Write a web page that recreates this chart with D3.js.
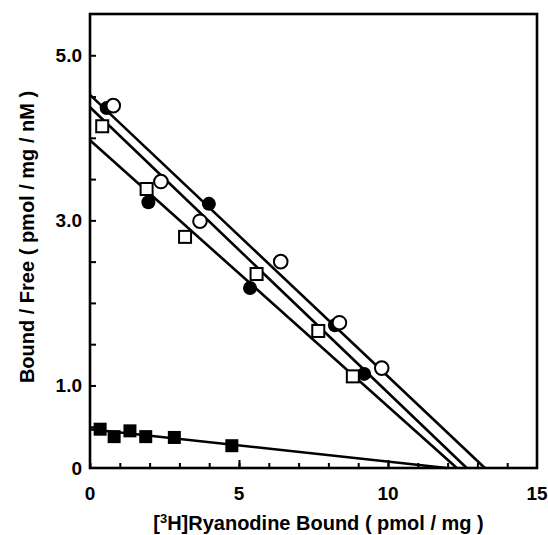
<!DOCTYPE html>
<html>
<head>
<meta charset="utf-8">
<script src="https://cdn.jsdelivr.net/npm/d3@7"></script>
<style>
  body { margin: 0; background: #fff; }
  text { font-family: "Liberation Sans", Arial, Helvetica, sans-serif; font-weight: bold; fill: #000; }
</style>
</head>
<body>
<div id="chart"></div>
<script>
// Data
var filledCircleX = [0.56, 1.96, 3.99, 5.37, 8.22, 9.20];
var filledCircleY = [4.36, 3.22, 3.20, 2.18, 1.73, 1.14];

var openCircleX = [0.78, 2.38, 3.69, 6.40, 8.37, 9.79];
var openCircleY = [4.39, 3.47, 2.99, 2.50, 1.76, 1.21];

var openSquareX = [0.41, 1.90, 3.19, 5.59, 7.66, 8.82];
var openSquareY = [4.14, 3.38, 2.80, 2.35, 1.66, 1.11];

var filledSquareX = [0.34, 0.81, 1.34, 1.87, 2.83, 4.76];
var filledSquareY = [0.47, 0.38, 0.45, 0.38, 0.37, 0.27];

// fitted lines: y-intercept and x-intercept
var lineYIntercept = [4.52, 4.37, 3.97, 0.47];
var lineXIntercept = [13.25, 12.64, 12.31, 11.97];

var xTicks = [0, 5, 10, 15];
var yTickLabels = [0, 1, 3, 5];

// Layout
var MARGIN = { top: 14, right: 11, bottom: 67, left: 90 };
var W = 548, H = 535;
var WIDTH = W - MARGIN.left - MARGIN.right,
  HEIGHT = H - MARGIN.top - MARGIN.bottom;

var svg = d3.select('#chart').append('svg')
  .attr('width', W)
  .attr('height', H);

var g = svg.append('g')
  .attr('transform', 'translate(' + MARGIN.left + ',' + MARGIN.top + ')');

var x = d3.scaleLinear().domain([0, 15]).range([0, WIDTH]);
var y = d3.scaleLinear().domain([0, 5.5]).range([HEIGHT, 0]);

// ticks pointing inward
var xAxis = d3.axisTop(x).tickValues(d3.range(0, 15, 1)).tickSize(5).tickFormat('');
g.append('g').attr('class', 'xminor')
  .attr('transform', 'translate(0,' + HEIGHT + ')')
  .call(xAxis);
g.append('g').attr('class', 'xmajor')
  .attr('transform', 'translate(0,' + HEIGHT + ')')
  .call(d3.axisTop(x).tickValues([5, 10]).tickSize(8).tickFormat(''));

g.append('g').attr('class', 'yminor')
  .call(d3.axisRight(y).tickValues(d3.range(0.5, 5.5, 0.5)).tickSize(6).tickFormat(''));

g.selectAll('.domain').remove();
g.selectAll('.tick line').attr('stroke', '#000').attr('stroke-width', 2);

// tick labels
g.selectAll('.xlab').data(xTicks).enter().append('text')
  .attr('class', 'xlab')
  .attr('x', function(d) { return x(d); })
  .attr('y', HEIGHT + 32)
  .attr('text-anchor', 'middle')
  .style('font-size', '19px')
  .text(function(d) { return d; });

g.selectAll('.ylab').data(yTickLabels).enter().append('text')
  .attr('class', 'ylab')
  .attr('x', -8)
  .attr('y', function(d) { return y(d) + 7; })
  .attr('text-anchor', 'end')
  .style('font-size', '19px')
  .text(function(d) { return d === 0 ? '0' : d3.format('.1f')(d); });

// fitted lines
var lines = lineYIntercept.map(function(b, i) {
  return [[0, b], [lineXIntercept[i], 0]];
});
g.selectAll('.fit').data(lines).enter().append('line')
  .attr('class', 'fit')
  .attr('x1', function(d) { return x(d[0][0]); })
  .attr('y1', function(d) { return y(d[0][1]); })
  .attr('x2', function(d) { return x(d[1][0]); })
  .attr('y2', function(d) { return y(d[1][1]); })
  .attr('stroke', '#000')
  .attr('stroke-width', 2.6);

function pts(xs, ys) {
  return xs.map(function(v, i) { return { x: v, y: ys[i] }; });
}

// filled squares
g.selectAll('.fsq').data(pts(filledSquareX, filledSquareY)).enter().append('rect')
  .attr('x', function(d) { return x(d.x) - 6.5; })
  .attr('y', function(d) { return y(d.y) - 6.5; })
  .attr('width', 13).attr('height', 13)
  .attr('fill', '#000');

// filled circles
g.selectAll('.fci').data(pts(filledCircleX, filledCircleY)).enter().append('circle')
  .attr('cx', function(d) { return x(d.x); })
  .attr('cy', function(d) { return y(d.y); })
  .attr('r', 7)
  .attr('fill', '#000');

// open squares
g.selectAll('.osq').data(pts(openSquareX, openSquareY)).enter().append('rect')
  .attr('x', function(d) { return x(d.x) - 6; })
  .attr('y', function(d) { return y(d.y) - 6; })
  .attr('width', 12).attr('height', 12)
  .attr('fill', '#fff')
  .attr('stroke', '#000')
  .attr('stroke-width', 2);

// open circles
g.selectAll('.oci').data(pts(openCircleX, openCircleY)).enter().append('circle')
  .attr('cx', function(d) { return x(d.x); })
  .attr('cy', function(d) { return y(d.y); })
  .attr('r', 6.8)
  .attr('fill', '#fff')
  .attr('stroke', '#000')
  .attr('stroke-width', 2);

// frame
g.append('rect')
  .attr('x', 0).attr('y', 0)
  .attr('width', WIDTH).attr('height', HEIGHT)
  .attr('fill', 'none')
  .attr('stroke', '#000')
  .attr('stroke-width', 2.6);

// axis titles
var xt = g.append('text')
  .attr('x', WIDTH / 2 + 5)
  .attr('y', HEIGHT + 62)
  .attr('text-anchor', 'middle')
  .style('font-size', '20px');
xt.append('tspan').text('[');
xt.append('tspan').attr('dy', -7).style('font-size', '13px').text('3');
xt.append('tspan').attr('dy', 7).text('H]Ryanodine Bound ( pmol / mg )');

g.append('text')
  .attr('transform', 'translate(' + (-56) + ',' + (HEIGHT / 2 - 4) + ') rotate(-90)')
  .attr('text-anchor', 'middle')
  .style('font-size', '20px')
  .text('Bound / Free ( pmol / mg / nM )');
</script>
</body>
</html>
